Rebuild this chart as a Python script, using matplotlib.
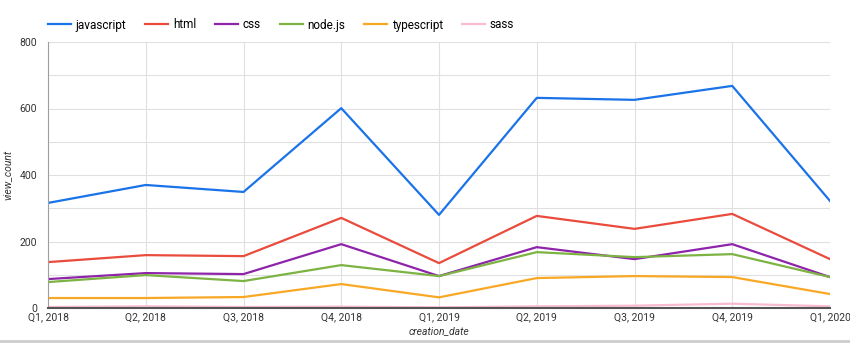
import matplotlib.pyplot as plt
from matplotlib.ticker import MultipleLocator

plt.rcParams['font.family'] = ['Roboto', 'DejaVu Sans']

quarters = ['Q1, 2018', 'Q2, 2018', 'Q3, 2018', 'Q4, 2018', 'Q1, 2019',
            'Q2, 2019', 'Q3, 2019', 'Q4, 2019', 'Q1, 2020']
javascript = [316, 370, 349, 601, 280, 632, 626, 668, 322]
html = [138, 159, 156, 271, 135, 277, 238, 283, 147]
css = [87, 105, 102, 192, 96, 183, 147, 192, 93]
nodejs = [78, 99, 81, 129, 96, 168, 153, 162, 93]
typescript = [30, 30, 33, 72, 32, 90, 96, 93, 42]
sass = [3, 5, 3, 4, 2, 5, 7, 13, 5]

series = [('javascript', javascript, '#1a73e8'),
          ('html', html, '#e94b3c'),
          ('css', css, '#8e24aa'),
          ('node.js', nodejs, '#7cb342'),
          ('typescript', typescript, '#f9a825'),
          ('sass', sass, '#f8bbd0')]

fig = plt.figure(figsize=(8.5, 3.49), dpi=100)
ax = fig.add_axes([48 / 850, 1 - 308 / 349, 782 / 850, 266 / 349])

x = range(len(quarters))
for name, vals, col in series:
    ax.plot(x, vals, color=col, lw=1.6, label=name)

ax.set_xlim(0, len(quarters) - 1)
ax.set_ylim(0, 800)
ax.set_xticks(list(x))
ax.set_xticklabels(quarters)
ax.yaxis.set_major_locator(MultipleLocator(200))
ax.yaxis.set_minor_locator(MultipleLocator(100))
ax.grid(True, which='both', color='#e0e0e0', lw=0.8)
ax.set_axisbelow(True)
ax.tick_params(which='both', length=0, labelsize=7.5, colors='#333333', pad=3)
ax.tick_params(axis='y', pad=8)
for s in ['top', 'right']:
    ax.spines[s].set_visible(False)
ax.spines['left'].set_color('#9e9e9e')
ax.spines['bottom'].set_color('#555555')
ax.spines['bottom'].set_linewidth(1.5)

ax.set_xlabel('creation_date', fontsize=7.5, style='italic', color='#333333', labelpad=3)
ax.set_ylabel('view_count', fontsize=7.5, style='italic', color='#333333', labelpad=5)

fig.legend(loc='center left', bbox_to_anchor=(48 / 850, 1 - 25 / 349), ncol=6, frameon=False,
           fontsize=8.5, handlelength=1.95, columnspacing=1.6, handletextpad=0.4,
           borderpad=0, borderaxespad=0)

fig.add_artist(plt.Line2D([0, 1], [1 - 341 / 349] * 2, color='#cccccc', lw=2))

fig.savefig('out.png', dpi=100)
